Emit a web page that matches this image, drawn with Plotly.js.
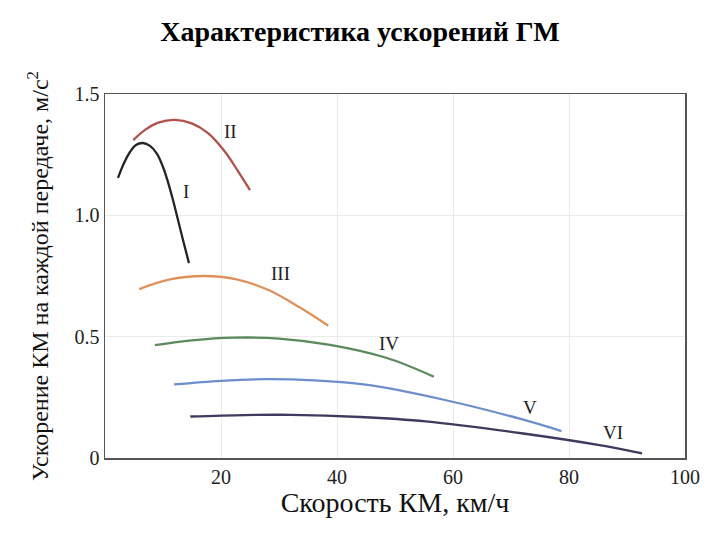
<!DOCTYPE html>
<html>
<head>
<meta charset="utf-8">
<script src="https://cdn.plot.ly/plotly-3.0.1.min.js"></script>
<style>html,body{margin:0;padding:0;background:#fff;}#chart{width:720px;height:540px;}</style>
</head>
<body>
<div id="chart"></div>
<script>
// Gear curves: speed (km/h) and acceleration (m/s^2)
const gearNames = ["I", "II", "III", "IV", "V", "VI"];
const speedI = [2.24, 3.28, 4.31, 5.34, 6.55, 7.76, 8.97, 10.0, 10.86, 11.72, 12.59, 13.45, 14.48];
const accelI = [1.154, 1.216, 1.261, 1.290, 1.298, 1.286, 1.253, 1.199, 1.137, 1.063, 0.981, 0.898, 0.803];
const speedII = [4.88, 6.90, 9.19, 12.07, 14.95, 17.81, 20.69, 22.98, 25.0];
const accelII = [1.310, 1.352, 1.382, 1.393, 1.379, 1.338, 1.262, 1.180, 1.104];
const speedIII = [5.9, 11.0, 17.0, 22.5, 28.2, 33.4, 38.5];
const accelIII = [0.696, 0.735, 0.750, 0.737, 0.692, 0.623, 0.545];
const speedIV = [8.6, 15.0, 22.2, 30.0, 38.8, 48.6, 56.7];
const accelIV = [0.465, 0.485, 0.496, 0.492, 0.466, 0.412, 0.335];
const speedV = [11.9, 20.0, 27.6, 36.0, 45.3, 58.6, 71.8, 78.7];
const accelV = [0.303, 0.318, 0.325, 0.320, 0.301, 0.239, 0.160, 0.111];
const speedVI = [14.7, 24.0, 32.2, 44.0, 55.3, 71.8, 85.0, 92.6];
const accelVI = [0.171, 0.177, 0.178, 0.169, 0.151, 0.102, 0.054, 0.019];
const xTicks = [20, 40, 60, 80, 100];
const yTicks = [0, 0.5, 1.0, 1.5];
const yTickText = ["0", "0.5", "1.0", "1.5"];

const speeds = [speedI, speedII, speedIII, speedIV, speedV, speedVI];
const accels = [accelI, accelII, accelIII, accelIV, accelV, accelVI];
const colors = ["#252525", "#b0524a", "#e0915a", "#5b8a5c", "#6d8ec9", "#3d3b5e"];
const labelPos = [[14.0, 1.10], [21.7, 1.345], [30.3, 0.76], [49.0, 0.47], [73.3, 0.21], [87.6, 0.105]];

const traces = speeds.map((sx, i) => ({
  x: sx, y: accels[i], type: "scatter", mode: "lines",
  line: {color: colors[i], width: 2.3, shape: "spline", smoothing: 1},
  name: gearNames[i], hoverinfo: "skip"
}));

const serif = "Liberation Serif, Times New Roman, serif";
const annotations = gearNames.map((g, i) => ({
  x: labelPos[i][0], y: labelPos[i][1], xref: "x", yref: "y",
  text: g, showarrow: false, font: {family: serif, size: 19, color: "#222"}
}));

const layout = {
  width: 720, height: 540,
  margin: {l: 105, r: 35, t: 94, b: 82},
  paper_bgcolor: "#fff", plot_bgcolor: "#fff",
  showlegend: false,
  title: {text: "<b>Характеристика ускорений ГМ</b>", x: 0.5, xanchor: "center", y: 0.943, yanchor: "middle",
    font: {family: serif, size: 28, color: "#000"}},
  xaxis: {range: [0, 100], tickvals: xTicks, ticktext: xTicks.map(String),
    showgrid: true, gridcolor: "#ebebeb", gridwidth: 1, zeroline: false,
    showline: true, linecolor: "#555", linewidth: 1.5, mirror: true, ticks: "",
    tickfont: {family: serif, size: 20, color: "#222"},
    title: {text: "Скорость КМ, км/ч", font: {family: serif, size: 28, color: "#111"}, standoff: 1}},
  yaxis: {range: [0, 1.5], tickvals: yTicks, ticktext: yTickText,
    showgrid: true, gridcolor: "#ebebeb", gridwidth: 1, zeroline: false,
    showline: true, linecolor: "#555", linewidth: 1.5, mirror: true, ticks: "",
    tickfont: {family: serif, size: 20, color: "#222"},
    title: {text: "Ускорение КМ на каждой передаче, м/с<sup>2</sup>", font: {family: serif, size: 24, color: "#111"}, standoff: 19}},
  annotations: annotations
};

Plotly.newPlot("chart", traces, layout, {displayModeBar: false, staticPlot: true});
</script>
</body>
</html>
